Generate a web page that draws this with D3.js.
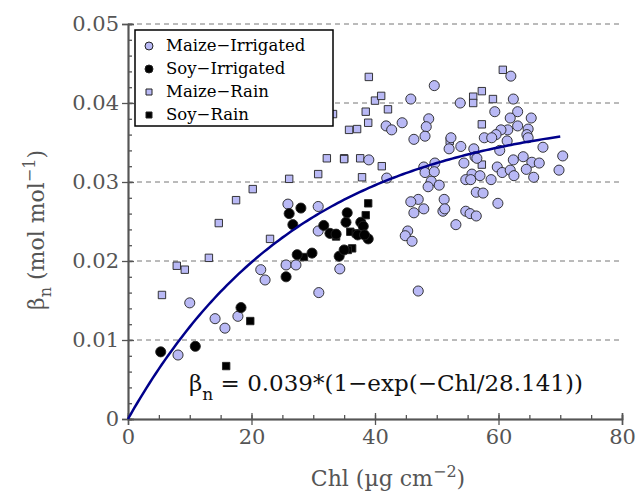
<!DOCTYPE html><html><head><meta charset="utf-8">
<script src="https://cdn.jsdelivr.net/npm/d3@7"></script>
<style>body{margin:0;background:#fff}</style>
</head><body><svg id="c" width="638" height="496"></svg>
<script>
const maizeIrr=[[8.1,.0081],[10,.0147],[14.1,.0127],[15.7,.0115],[17.8,.013],[21.5,.0189],[22.2,.0176],[25.9,.0272],[25.6,.0195],[27.2,.0195],[30.8,.0269],[30.8,.0238],[30.9,.016],[34.3,.019],[39,.0328],[41.9,.0305],
[49.6,.0422],[62,.0434],[45.8,.0405],[53.8,.04],[62.4,.0405],[59.4,.0389],[63.1,.0389],[61.9,.0381],[65.3,.0381],[41.8,.0371],[42.7,.0366],[44.4,.0375],[48.7,.038],[48.3,.037],[48.1,.0358],[46.3,.0354],[63.1,.0371],[64.8,.0367],[64.6,.036],[64.8,.0356],[61.5,.0366],[60.4,.0366],[59.6,.036],[57.7,.0356],[58.9,.0356],[61.4,.0352],[52.3,.0356],[52,.0342],[53.9,.0345],[56,.0342],[60.2,.034],[67.2,.0344],[70.4,.0333],[56.2,.0332],[56.5,.033],[64,.0332],[62.4,.0328],[65.4,.0325],[66.6,.0324],[54.4,.0324],[49.7,.0324],[47.9,.0319],[59.8,.0319],[64.5,.0316],[69.8,.0315],[48.1,.0312],[49.6,.0313],[60.6,.0312],[61.9,.0315],[62.5,.0308],[65.7,.0306],[55.7,.031],[57,.0308],[54.7,.0303],[55.5,.0303],[58.8,.0303],[49.1,.0301],[48.6,.0294],[50.4,.0296],[56.4,.0287],[57.5,.0286],[51.2,.0278],[47,.0278],[45.8,.0275],[46.3,.0261],[47.9,.0266],[51,.0263],[51.3,.0266],[59.9,.0273],[54.7,.0263],[55.4,.026],[56.4,.0257],[53.1,.0246],[45.3,.0238],[44.9,.0232],[46,.0225],[47,.0162]];
const soyIrr=[[5.3,.0085],[10.9,.0092],[18.3,.0141],[25.6,.018],[26.1,.026],[26.7,.0246],[28,.0267],[27.4,.0208],[29.8,.021],[31.7,.0245],[32.7,.0235],[33.7,.0234],[34.2,.0206],[35,.0214],[35.3,.0249],[35.5,.0261],[37.7,.0249],[38.1,.0244],[38.9,.0228],[37.2,.0233],[38.3,.0233]];
const maizeRain=[[5.5,.0157],[7.9,.0194],[9.2,.0189],[13.1,.0204],[14.7,.0248],[17.5,.0277],[20.2,.0291],[23,.0228],[26.1,.0304],[30.8,.031],[32.2,.033],[35,.033],[33.2,.0386],[39,.0433],[60.7,.0442],[40,.0403],[41,.0409],[42.1,.0392],[38.5,.0389],[38.9,.0375],[35.8,.0366],[37.1,.0367],[35,.0329],[37.6,.033],[41.1,.032],[37.9,.0306],[55.9,.0408],[55.9,.04],[57.3,.0415],[59.1,.0405],[57.3,.0373],[52.1,.0352],[57.3,.0322]];
const soyRain=[[15.9,.0067],[19.8,.0124],[28.5,.0205],[33.7,.0231],[36,.0237],[36.3,.0216],[35.6,.0214],[36.9,.0235],[38.5,.0258],[38.9,.0273]];
const fitA=0.039, fitB=28.141;
const xTicks=[0,20,40,60,80], yTicks=[0,.01,.02,.03,.04,.05];

const FONT='"DejaVu Serif", serif';
const svg=d3.select('#c');
const x=d3.scaleLinear().domain([0,80]).range([128,622]);
const y=d3.scaleLinear().domain([0,.05]).range([419,24]);
const fill='#b9b9f5';

svg.selectAll('.g').data(yTicks.slice(1)).join('line')
 .attr('x1',128).attr('x2',622).attr('y1',d=>y(d)).attr('y2',d=>y(d))
 .attr('stroke','#777').attr('stroke-dasharray','5,4');

svg.append('g').attr('transform','translate(0,419)')
 .call(d3.axisBottom(x).tickValues(xTicks).tickSize(6).tickPadding(4).tickFormat(d3.format('d')));
svg.append('g').attr('transform','translate(128,0)')
 .call(d3.axisLeft(y).tickValues(yTicks).tickSize(6).tickPadding(3).tickFormat(d=>d===0?'0':d3.format('.2f')(d)));
svg.append('g').attr('transform','translate(128,0)')
 .call(d3.axisLeft(y).tickValues(yTicks).tickSize(-6).tickFormat(''));
svg.append('g').attr('transform','translate(0,419)')
 .call(d3.axisBottom(x).tickValues(xTicks).tickSize(-6).tickFormat(''));
svg.append('g').attr('transform','translate(128,0)')
 .call(d3.axisLeft(y).ticks(25).tickSize(-4).tickFormat(''));
svg.append('g').attr('transform','translate(0,419)')
 .call(d3.axisBottom(x).ticks(16).tickSize(-4).tickFormat(''));
svg.selectAll('.domain').attr('stroke','#555').attr('stroke-width',1.5);
svg.selectAll('.tick line').attr('stroke','#555').attr('stroke-width',1.3);
svg.selectAll('.tick text').attr('font-size',21).attr('fill','#555').attr('font-family',FONT);

const sym=(t,s)=>d3.symbol().type(t).size(s)();
function pts(data,t,s,f){
 svg.append('g').selectAll('path').data(data).join('path')
  .attr('d',sym(t,s)).attr('transform',d=>`translate(${x(d[0])},${y(d[1])})`)
  .attr('fill',f).attr('stroke','#222').attr('stroke-width',0.9);
}
pts(maizeRain,d3.symbolSquare,55,fill);
pts(maizeIrr,d3.symbolCircle,80,fill);
pts(soyRain,d3.symbolSquare,55,'#000');
pts(soyIrr,d3.symbolCircle,80,'#000');

const curve=d3.range(0,70.01,0.5).map(c=>[c,fitA*(1-Math.exp(-c/fitB))]);
svg.append('path').attr('d',d3.line().x(d=>x(d[0])).y(d=>y(d[1]))(curve))
 .attr('fill','none').attr('stroke','#00008b').attr('stroke-width',2.5);

const lg=svg.append('g').attr('font-family',FONT);
lg.append('rect').attr('x',135).attr('y',30).attr('width',198).attr('height',96).attr('fill','#fff').attr('stroke','#000').attr('stroke-width',1.5);
const items=[['Maize\u2212Irrigated',d3.symbolCircle,fill],['Soy\u2212Irrigated',d3.symbolCircle,'#000'],['Maize\u2212Rain',d3.symbolSquare,fill],['Soy\u2212Rain',d3.symbolSquare,'#000']];
items.forEach((it,i)=>{
 const yy=46+i*23;
 lg.append('path').attr('d',sym(it[1],it[1]===d3.symbolCircle?50:36)).attr('transform',`translate(149,${yy})`).attr('fill',it[2]).attr('stroke','#222');
 lg.append('text').attr('x',166).attr('y',yy+5).attr('font-size',16.5).text(it[0]);
});

const eq=svg.append('text').attr('x',189).attr('y',391).attr('font-size',23).attr('fill','#111').attr('font-family',FONT);
eq.append('tspan').text('\u03b2');
eq.append('tspan').attr('dy',9).attr('font-size',17).text('n');
eq.append('tspan').attr('dy',-9).text(' = 0.039*(1\u2212exp(\u2212Chl/28.141))');

const xl=svg.append('text').attr('x',388).attr('y',486).attr('text-anchor','middle').attr('font-size',22).attr('fill','#555').attr('font-family',FONT);
xl.append('tspan').text('Chl (\u00b5g cm');
xl.append('tspan').attr('dy',-9).attr('font-size',16).text('\u22122');
xl.append('tspan').attr('dy',9).text(')');
const yl=svg.append('text').attr('transform','translate(44,230) rotate(-90)').attr('text-anchor','middle').attr('font-size',22).attr('fill','#555').attr('font-family',FONT);
yl.append('tspan').text('\u03b2');
yl.append('tspan').attr('dy',7).attr('font-size',16).text('n');
yl.append('tspan').attr('dy',-7).text(' (mol mol');
yl.append('tspan').attr('dy',-9).attr('font-size',16).text('\u22121');
yl.append('tspan').attr('dy',9).text(')');
</script></body></html>
